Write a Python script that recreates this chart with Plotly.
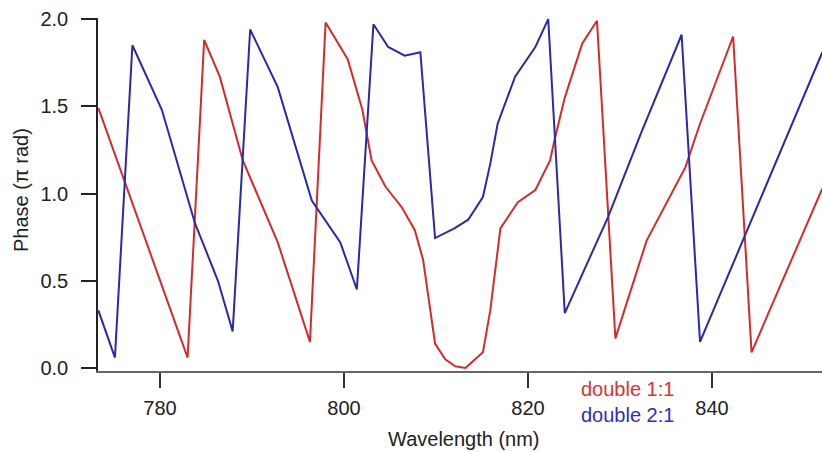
import plotly.graph_objects as go

# ---- data ----
wl_double_11 = [773.3, 783.0, 784.8, 786.5, 789.0, 792.8, 796.3, 798.0, 800.4, 802.0,
                803.0, 804.5, 806.3, 807.7, 808.6, 809.9, 811.0, 812.1, 813.2, 815.1,
                815.9, 817.0, 818.9, 820.8, 822.4, 822.9, 824.0, 825.9, 827.5, 829.5,
                832.9, 837.1, 838.7, 842.3, 844.3, 852.0]
ph_double_11 = [1.49, 0.06, 1.88, 1.67, 1.19, 0.72, 0.15, 1.98, 1.77, 1.48,
                1.19, 1.04, 0.92, 0.79, 0.62, 0.14, 0.05, 0.01, 0.0, 0.09,
                0.33, 0.80, 0.95, 1.02, 1.19, 1.31, 1.55, 1.86, 1.99, 0.17,
                0.73, 1.15, 1.40, 1.90, 0.09, 1.03]

wl_double_21 = [773.3, 775.1, 777.0, 780.2, 783.8, 786.3, 787.9, 789.8, 792.8, 796.5,
                799.6, 801.4, 803.2, 804.8, 806.6, 808.3, 809.9, 812.0, 813.5, 815.1,
                815.9, 816.7, 818.6, 820.8, 822.2, 824.0, 828.7, 832.4, 836.7, 838.7,
                852.0]
ph_double_21 = [0.33, 0.06, 1.85, 1.48, 0.83, 0.50, 0.21, 1.94, 1.61, 0.96,
                0.72, 0.45, 1.97, 1.84, 1.79, 1.81, 0.745, 0.80, 0.85, 0.98,
                1.17, 1.40, 1.67, 1.84, 2.00, 0.315, 0.865, 1.36, 1.91, 0.15,
                1.81]

x_ticks = [780, 800, 820, 840]
y_ticks = [0.0, 0.5, 1.0, 1.5, 2.0]
y_tick_text = ["0.0", "0.5", "1.0", "1.5", "2.0"]
series_names = ["double 1:1", "double 2:1"]

RED = "#d42a2a"
BLUE = "#2a2aa8"
FONT = "Liberation Sans, Arial, Helvetica, sans-serif"

W, H = 822, 452
ML, MR, MT, MB = 98, 0, 18, 81


def px_x(p):
    return (p - ML) / (W - ML - MR)


def px_y(p):
    return (H - MB - p) / (H - MT - MB)


fig = go.Figure()
fig.add_trace(go.Scatter(x=wl_double_11, y=ph_double_11, mode="lines",
                         line=dict(color=RED, width=2), name=series_names[0]))
fig.add_trace(go.Scatter(x=wl_double_21, y=ph_double_21, mode="lines",
                         line=dict(color=BLUE, width=2), name=series_names[1]))

fig.update_layout(
    width=W, height=H,
    margin=dict(l=ML, r=MR, t=MT, b=MB, pad=0),
    paper_bgcolor="white", plot_bgcolor="white",
    showlegend=False,
    font=dict(family=FONT, size=20, color="#222"),
    xaxis=dict(range=[773.26, 851.96], tickvals=x_ticks, ticks="outside",
               ticklen=15, tickwidth=1.5, tickcolor="#333",
               showline=True, linecolor="#666", linewidth=2,
               showgrid=False, zeroline=False, ticklabelstandoff=3,
               tickfont=dict(size=20, color="#222")),
    yaxis=dict(range=[-0.017, 2.006], tickvals=y_ticks, ticktext=y_tick_text,
               ticks="outside", ticklen=15, tickwidth=1.5, tickcolor="#222",
               showline=True, linecolor="#222", linewidth=1.5,
               showgrid=False, zeroline=False, ticklabelstandoff=9,
               tickfont=dict(size=20, color="#222")),
)

fig.add_annotation(text="Wavelength (nm)", xref="paper", yref="paper",
                   x=px_x(464), y=px_y(439), showarrow=False,
                   xanchor="center", yanchor="middle",
                   font=dict(size=20, color="#222"))
fig.add_annotation(text="Phase (\u03c0 rad)", xref="paper", yref="paper",
                   x=px_x(21), y=px_y(190), showarrow=False, textangle=-90,
                   xanchor="center", yanchor="middle",
                   font=dict(size=20, color="#222"))
legend_text = ("<span style='color:#e03030'>%s</span><br>"
               "<span style='color:#2e2ec0'>%s</span>") % tuple(series_names)
fig.add_annotation(text=legend_text, xref="paper", yref="paper",
                   x=px_x(579), y=px_y(402), showarrow=False,
                   xanchor="left", yanchor="middle", align="left",
                   font=dict(size=20))

fig.write_html("out.html")
